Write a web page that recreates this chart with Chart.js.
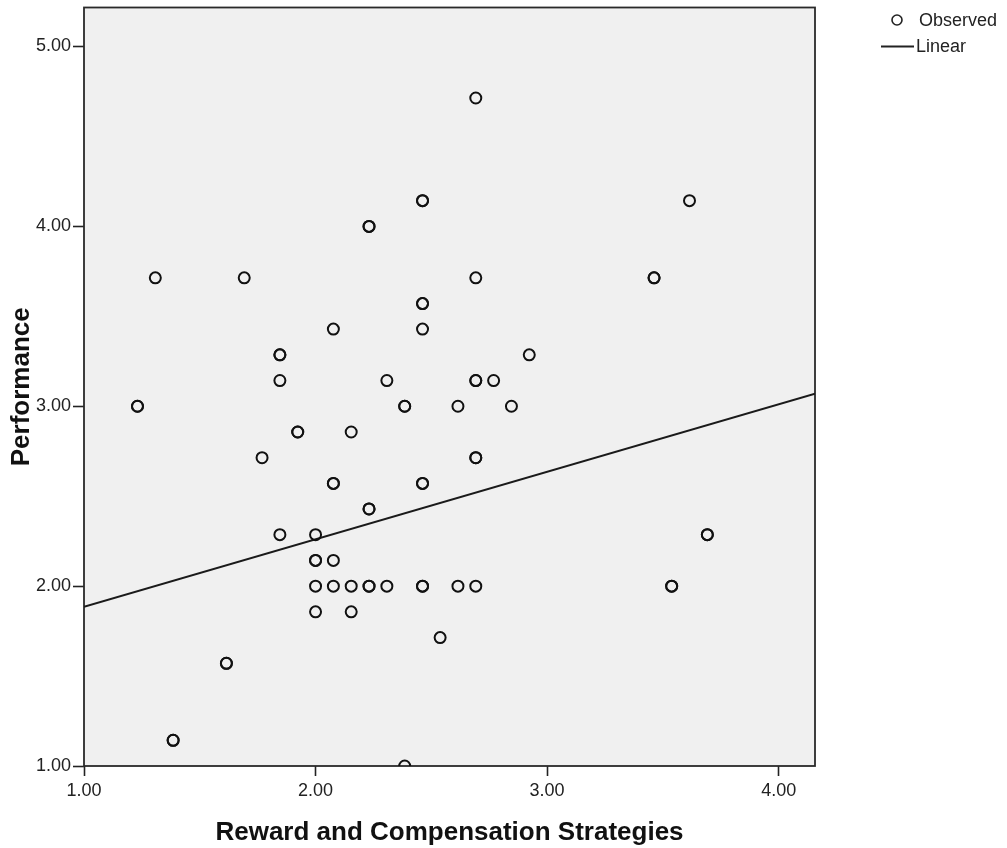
<!DOCTYPE html>
<html>
<head>
<meta charset="utf-8">
<script src="https://cdn.jsdelivr.net/npm/chart.js@4"></script>
<style>
  html, body { margin: 0; padding: 0; background: #fff; }
  #wrap { width: 1007px; height: 848px; }
</style>
</head>
<body>
<div id="wrap"><canvas id="fitChart"></canvas></div>
<script>
// observed cases (duplicated entries = overlapping cases, drawn darker)
const rewardX = [
  2.692, 2.462, 2.462, 3.615, 2.231, 2.231, 1.308, 1.692, 2.692, 3.462, 3.462,
  2.462, 2.462, 2.077, 2.462, 1.846, 1.846, 2.923, 1.846, 2.308, 2.692, 2.692,
  2.769, 1.231, 1.231, 2.385, 2.385, 2.615, 2.846, 1.923, 1.923, 2.154, 1.769,
  2.692, 2.692, 2.077, 2.077, 2.462, 2.462, 2.231, 2.231, 1.846, 2.000, 3.692,
  3.692, 2.000, 2.000, 2.077, 2.000, 2.077, 2.154, 2.231, 2.231, 2.308, 2.462,
  2.462, 2.615, 2.692, 3.538, 3.538, 2.000, 2.154, 2.538, 1.615, 1.615, 1.385,
  1.385, 2.385
];
const performanceY = [
  4.714, 4.143, 4.143, 4.143, 4.000, 4.000, 3.714, 3.714, 3.714, 3.714, 3.714,
  3.571, 3.571, 3.429, 3.429, 3.286, 3.286, 3.286, 3.143, 3.143, 3.143, 3.143,
  3.143, 3.000, 3.000, 3.000, 3.000, 3.000, 3.000, 2.857, 2.857, 2.857, 2.714,
  2.714, 2.714, 2.571, 2.571, 2.571, 2.571, 2.429, 2.429, 2.286, 2.286, 2.286,
  2.286, 2.143, 2.143, 2.143, 2.000, 2.000, 2.000, 2.000, 2.000, 2.000, 2.000,
  2.000, 2.000, 2.000, 2.000, 2.000, 1.857, 1.857, 1.714, 1.571, 1.571, 1.143,
  1.143, 1.000
];

// linear fit line, ends
const linearX = [1.0, 4.157];
const linearY = [1.885, 3.07];

const xTickValues = [1, 2, 3, 4];
const yTickValues = [1, 2, 3, 4, 5];

const FONT = '"Liberation Sans", Arial, sans-serif';

const observedPts = rewardX.map((x, i) => ({ x: x, y: performanceY[i] }));
const linearPts = linearX.map((x, i) => ({ x: x, y: linearY[i] }));

// grey plot background with frame
const plotFrame = {
  id: "plotFrame",
  beforeDatasetsDraw(chart) {
    const a = chart.chartArea, c = chart.ctx;
    c.save();
    c.fillStyle = "#f0f0f0";
    c.fillRect(a.left, a.top, a.right - a.left, a.bottom - a.top);
    c.strokeStyle = "#2a2a2a";
    c.lineWidth = 1.8;
    c.strokeRect(a.left, a.top, a.right - a.left, a.bottom - a.top);
    c.restore();
  }
};

// legend in the top right corner, outside the plot
const sideLegend = {
  id: "sideLegend",
  afterDraw(chart) {
    const c = chart.ctx;
    const ds = chart.data.datasets;
    c.save();
    c.font = "18px " + FONT;
    c.fillStyle = "#222";
    c.textBaseline = "middle";
    c.strokeStyle = "#222";
    c.lineWidth = 1.6;
    c.beginPath();
    c.arc(897, 20, 5, 0, Math.PI * 2);
    c.stroke();
    c.fillText(ds[0].label, 919, 21);
    c.lineWidth = 2;
    c.beginPath();
    c.moveTo(881, 46.5);
    c.lineTo(914, 46.5);
    c.stroke();
    c.fillText(ds[1].label, 916, 47);
    c.restore();
  }
};

const noScalePad = s => { s.paddingTop = 0; s.paddingBottom = 0; s.paddingLeft = 0; s.paddingRight = 0; };

const ctx = document.getElementById("fitChart").getContext("2d");
new Chart(ctx, {
  type: "scatter",
  data: {
    datasets: [{
      label: "Observed",
      data: observedPts,
      pointRadius: 5.5,
      pointHoverRadius: 5.5,
      pointBorderWidth: 2,
      pointBorderColor: "#111",
      pointBackgroundColor: "rgba(0,0,0,0)",
      clip: 0
    }, {
      label: "Linear",
      type: "line",
      data: linearPts,
      borderColor: "#1a1a1a",
      borderWidth: 2,
      pointRadius: 0,
      fill: false,
      clip: 0
    }]
  },
  options: {
    responsive: true,
    maintainAspectRatio: false,
    animation: false,
    layout: { padding: { top: 7, right: 192, left: 0, bottom: 0 } },
    plugins: {
      legend: { display: false },
      tooltip: { enabled: false }
    },
    scales: {
      x: {
        type: "linear",
        min: 1,
        max: 4.157,
        afterBuildTicks: s => { s.ticks = xTickValues.map(v => ({ value: v })); },
        afterFit: s => { s.height = 82; noScalePad(s); },
        grid: { drawOnChartArea: false, drawTicks: true, tickLength: 10, tickColor: "#222", tickWidth: 1.6 },
        border: { display: false },
        ticks: {
          padding: 4,
          color: "#222",
          font: { family: FONT, size: 18 },
          callback: v => Number(v).toFixed(2)
        },
        title: {
          display: true,
          text: "Reward and Compensation Strategies",
          color: "#111",
          font: { family: FONT, size: 26, weight: "bold" },
          padding: { top: 0, bottom: 0 }
        }
      },
      y: {
        type: "linear",
        min: 1,
        max: 5.217,
        afterBuildTicks: s => { s.ticks = yTickValues.map(v => ({ value: v })); },
        afterFit: s => { s.width = 84; noScalePad(s); },
        grid: { drawOnChartArea: false, drawTicks: true, tickLength: 11, tickColor: "#222", tickWidth: 1.6 },
        border: { display: false },
        ticks: {
          padding: 2,
          color: "#222",
          font: { family: FONT, size: 18 },
          callback: v => Number(v).toFixed(2)
        },
        title: {
          display: true,
          text: "Performance",
          color: "#111",
          font: { family: FONT, size: 26, weight: "bold" },
          padding: { top: 6, bottom: 0 }
        }
      }
    }
  },
  plugins: [plotFrame, sideLegend]
});
</script>
</body>
</html>
